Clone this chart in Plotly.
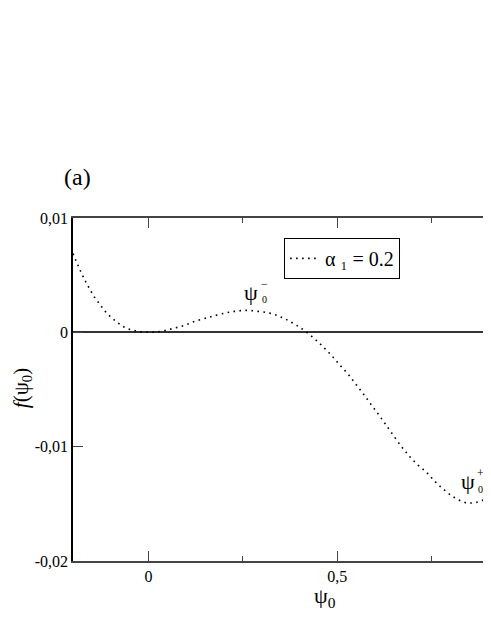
import plotly.graph_objects as go

# values
psi0 = [-0.2, -0.176, -0.162, -0.146, -0.128, -0.109, -0.086, -0.059, -0.028, 0.0,
        0.034, 0.063, 0.095, 0.122, 0.153, 0.171, 0.202, 0.228, 0.259, 0.29,
        0.321, 0.347, 0.369, 0.392, 0.418, 0.445, 0.467, 0.489, 0.509, 0.53,
        0.549, 0.568, 0.586, 0.605, 0.623, 0.641, 0.668, 0.688, 0.71, 0.737,
        0.759, 0.783, 0.81, 0.838, 0.853, 0.867, 0.882, 0.897, 0.907]
f_psi0 = [0.00689, 0.00506, 0.00416, 0.00323, 0.00241, 0.00163, 0.00096, 0.00037, 0.00009, 0.0,
          0.00009, 0.00032, 0.00061, 0.00096, 0.00125, 0.00142, 0.00168, 0.00183, 0.00192, 0.00183,
          0.00168, 0.00139, 0.00105, 0.00061, 0.00003, -0.00072, -0.00142, -0.00218, -0.00294, -0.00372,
          -0.00453, -0.00534, -0.00616, -0.007, -0.00782, -0.00866, -0.00991, -0.01072, -0.0115, -0.01227,
          -0.01306, -0.01378, -0.01445, -0.01488, -0.01493, -0.01488, -0.01473, -0.0145, -0.0143]

x_ticks = [0, 0.5]
x_ticktext = ["0", "0,5"]
y_ticks = [-0.02, -0.01, 0, 0.01]
y_ticktext = ["-0,02", "-0,01", "0", "0,01"]

SERIF = "Liberation Serif"

fig = go.Figure()
fig.add_trace(go.Scatter(
    x=psi0, y=f_psi0, mode="lines", line_shape="spline",
    line=dict(color="black", width=1.6, dash="1.6px,4.4px"),
    name="α ₁ = 0.2",
))

# page body has an 8px margin, so the figure is sized/offset for that
fig.update_layout(
    width=483, height=619,
    margin=dict(l=65, r=0, t=210, b=66),
    paper_bgcolor="white", plot_bgcolor="white",
    font=dict(family=SERIF, color="black", size=16),
    showlegend=True,
    legend=dict(
        x=0.505, y=0.942, xanchor="left", yanchor="top",
        bordercolor="black", borderwidth=1, bgcolor="white",
        font=dict(size=20), itemwidth=30,
    ),
    xaxis=dict(
        range=[-0.2, 0.907], showgrid=False, zeroline=False,
        showline=True, linecolor="#444", linewidth=1.8, mirror="ticks",
        ticks="inside", ticklen=10, tickwidth=1, tickcolor="#444",
        tickvals=x_ticks, ticktext=x_ticktext,
        minor=dict(ticks="inside", ticklen=5, tickwidth=1, tickcolor="#444",
                   tickvals=[0.25, 0.75]),
    ),
    yaxis=dict(
        range=[-0.02, 0.01], showgrid=False,
        zeroline=True, zerolinecolor="#333", zerolinewidth=1.5,
        showline=True, linecolor="black", linewidth=1.5, mirror=False,
        ticks="inside", ticklen=10, tickwidth=1, tickcolor="#444",
        tickvals=y_ticks, ticktext=y_ticktext,
    ),
)

# axis titles and panel label
fig.add_annotation(x=0.603, y=-0.105, xref="paper", yref="paper", showarrow=False,
                   xanchor="center", yanchor="middle",
                   text="ψ<sub>0</sub>", font=dict(size=22))
fig.add_annotation(x=-0.122, y=0.504, xref="paper", yref="paper", showarrow=False,
                   xanchor="center", yanchor="middle",
                   text="<i>f</i>(ψ<sub>0</sub>)", textangle=-90, font=dict(size=21))
fig.add_annotation(x=0.0096, y=1.12, xref="paper", yref="paper", showarrow=False,
                   xanchor="center", yanchor="middle",
                   text="(a)", font=dict(size=24))

# ψ0- and ψ0+ marks: (psi, f, sup x, sup f, sub f, sign)
marks = [(0.272, 0.00351, 0.308, 0.00425, 0.00285, "−"),
         (0.845, -0.01305, 0.88, -0.01226, -0.01377, "+")]
for xp, yp, xs, ysup, ysub, sign in marks:
    fig.add_annotation(x=xp, y=yp, showarrow=False, text="ψ", font=dict(size=22),
                       xanchor="center", yanchor="middle")
    fig.add_annotation(x=xs, y=ysup, showarrow=False, text=sign, font=dict(size=12),
                       xanchor="center", yanchor="middle")
    fig.add_annotation(x=xs, y=ysub, showarrow=False, text="0", font=dict(size=10),
                       xanchor="center", yanchor="middle")

fig.write_html("out.html")
